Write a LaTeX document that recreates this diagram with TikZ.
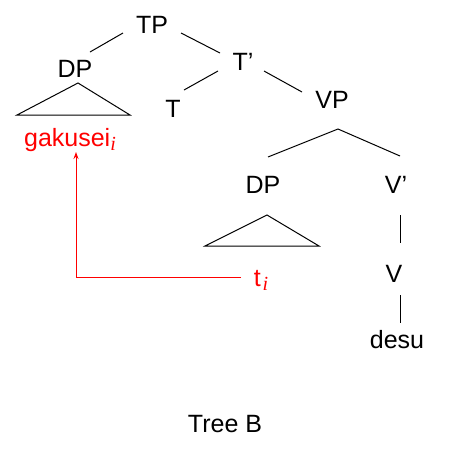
\documentclass[tikz,border=0pt]{standalone}
\usepackage{fontspec}
\setmainfont{Liberation Sans}
\newfontfamily\subserif{Liberation Serif}
\newcommand{\idx}{\raisebox{-4pt}{\subserif\itshape\fontsize{20}{20}\selectfont i}}
\usetikzlibrary{arrows.meta}
\begin{document}
\begin{tikzpicture}[x=1pt,y=-1pt,
  lab/.style={anchor=base,inner sep=0pt,font=\fontsize{25}{30}\selectfont},
  redlab/.style={lab,text=red},
  edge/.style={draw=black,line width=1pt},
  mv/.style={draw=red,line width=1pt,-{Stealth[length=7pt,width=5pt]}}]
\useasboundingbox (0,0) rectangle (451,453);
% labels
\node[lab] (TP) at (152,33) {TP};
\node[lab] (DP1) at (75,77) {DP};
\node[lab] (T) at (173,117) {T};
\node[lab] (Tb) at (243,70) {T'};
\node[lab] (VP) at (332,108) {VP};
\node[lab] (DP2) at (263,193) {DP};
\node[lab] (Vb) at (396,193) {V'};
\node[lab] (V) at (394,282) {V};
\node[lab] (desu) at (397,348) {desu};
\node[redlab] (gak) at (70,146) {gakusei\idx};
\node[redlab] (ti) at (261,286) {t\kern2pt\idx};
\node[lab] (cap) at (225,432) {Tree B};
% line ends
\coordinate (a1) at (123,33); \coordinate (a2) at (90,52);
\coordinate (b1) at (181,33); \coordinate (b2) at (220,53);
\coordinate (c1) at (218,71); \coordinate (c2) at (184,90);
\coordinate (d1) at (264,71); \coordinate (d2) at (302,92);
\coordinate (e0) at (338,129); \coordinate (e1) at (268,157); \coordinate (e2) at (400,156);
\coordinate (f1) at (400,215); \coordinate (f2) at (400,243);
\coordinate (g1) at (400,295); \coordinate (g2) at (400,323);
\coordinate (m0) at (241,277); \coordinate (m1) at (76,277); \coordinate (m2) at (76,152);
\draw[edge] (a1) -- (a2);
\draw[edge] (b1) -- (b2);
\draw[edge] (c1) -- (c2);
\draw[edge] (d1) -- (d2);
\draw[edge] (e1) -- (e0) -- (e2);
\draw[edge] (f1) -- (f2);
\draw[edge] (g1) -- (g2);
% triangles
\draw[edge,line join=miter] (78,83) -- (17,115) -- (130,115) -- cycle;
\draw[edge,line join=miter] (267,215) -- (205,246) -- (319,246) -- cycle;
% movement arrow
\draw[mv] (m0) -- (m1) -- (m2);
\end{tikzpicture}
\end{document}
